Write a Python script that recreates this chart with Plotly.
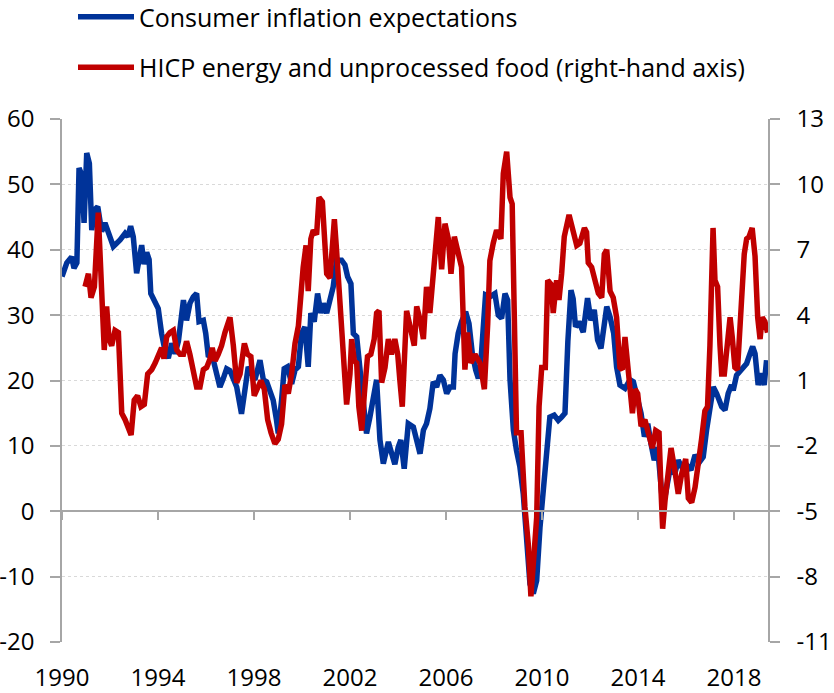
import plotly.graph_objects as go

# consumer inflation expectations (left axis), decimal year / balance
anos_exp = [1990.00, 1990.20, 1990.40, 1990.50, 1990.62, 1990.71, 1990.82, 1990.92, 1991.03, 1991.14,
            1991.24, 1991.35, 1991.49, 1991.65, 1991.79, 1991.93, 1992.14, 1992.42, 1992.63, 1992.75,
            1992.86, 1992.97, 1993.11, 1993.32, 1993.42, 1993.53, 1993.63, 1993.70, 1993.88, 1994.01,
            1994.15, 1994.29, 1994.43, 1994.57, 1994.71, 1994.85, 1995.06, 1995.19, 1995.33, 1995.47,
            1995.61, 1995.71, 1995.89, 1995.99, 1996.10, 1996.24, 1996.44, 1996.58, 1996.72, 1996.86,
            1997.00, 1997.28, 1997.48, 1997.62, 1997.76, 1997.90, 1998.04, 1998.25, 1998.39, 1998.53,
            1998.67, 1998.80, 1998.94, 1999.01, 1999.15, 1999.26, 1999.40, 1999.57, 1999.71, 1999.85,
            1999.98, 2000.12, 2000.26, 2000.37, 2000.51, 2000.65, 2000.79, 2000.89, 2001.03, 2001.17,
            2001.30, 2001.44, 2001.65, 2001.79, 2001.90, 2002.04, 2002.14, 2002.28, 2002.42, 2002.55,
            2002.69, 2002.83, 2002.97, 2003.11, 2003.25, 2003.39, 2003.60, 2003.73, 2003.87, 2004.01,
            2004.12, 2004.26, 2004.43, 2004.64, 2004.78, 2004.92, 2005.06, 2005.19, 2005.33, 2005.47,
            2005.61, 2005.75, 2005.89, 2006.03, 2006.17, 2006.31, 2006.38, 2006.51, 2006.65, 2006.82,
            2006.96, 2007.10, 2007.24, 2007.35, 2007.46, 2007.56, 2007.65, 2007.83, 2008.04, 2008.18,
            2008.32, 2008.46, 2008.57, 2008.67, 2008.81, 2008.94, 2009.08, 2009.22, 2009.36, 2009.50,
            2009.64, 2009.78, 2009.92, 2010.06, 2010.19, 2010.33, 2010.51, 2010.68, 2010.82, 2010.96,
            2011.08, 2011.21, 2011.30, 2011.40, 2011.54, 2011.72, 2011.90, 2012.04, 2012.18, 2012.32,
            2012.46, 2012.56, 2012.70, 2012.84, 2012.99, 2013.11, 2013.25, 2013.46, 2013.67, 2013.81,
            2013.95, 2014.13, 2014.27, 2014.41, 2014.54, 2014.68, 2014.82, 2014.99, 2015.13, 2015.33,
            2015.54, 2015.68, 2015.89, 2015.98, 2016.21, 2016.38, 2016.58, 2016.72, 2016.86, 2017.00,
            2017.14, 2017.28, 2017.49, 2017.63, 2017.76, 2017.90, 2017.97, 2018.11, 2018.32, 2018.53,
            2018.67, 2018.78, 2018.88, 2019.01, 2019.15, 2019.26, 2019.36]
valores_exp = [35.9, 38.0, 38.9, 37.2, 38.0, 52.5, 51.5, 44.1, 54.8, 53.2,
               43.0, 46.1, 46.6, 42.8, 44.1, 42.5, 40.5, 41.5, 42.5, 42.0,
               43.6, 42.0, 36.4, 40.7, 37.8, 39.6, 38.5, 33.3, 31.8, 31.0,
               27.2, 24.6, 23.4, 25.7, 24.1, 26.0, 32.3, 29.2, 31.8, 32.8,
               33.3, 29.0, 29.2, 27.2, 23.6, 24.1, 21.1, 19.0, 20.3, 21.8,
               21.5, 19.0, 14.9, 19.0, 22.1, 21.1, 20.1, 23.1, 20.1, 19.8,
               18.0, 17.0, 13.9, 11.9, 17.0, 21.8, 22.1, 19.5, 21.6, 22.1,
               27.2, 28.2, 22.1, 30.3, 29.0, 33.3, 30.3, 31.8, 30.3, 32.8,
               34.3, 38.4, 38.4, 37.7, 35.9, 34.8, 27.2, 26.7, 21.6, 18.0,
               11.9, 14.4, 17.0, 20.1, 10.9, 7.3, 10.6, 8.8, 7.2, 9.8,
               10.9, 6.5, 13.4, 12.9, 10.6, 8.8, 12.4, 13.4, 15.7, 19.8,
               19.0, 20.8, 20.1, 18.0, 19.0, 19.0, 24.1, 27.2, 29.0, 30.5,
               28.7, 24.1, 21.6, 20.3, 23.1, 29.7, 33.1, 32.8, 33.3, 30.0,
               29.5, 33.3, 32.3, 20.1, 12.4, 9.3, 6.8, 2.7, -4.4, -11.1,
               -12.6, -10.6, -2.4, 2.7, 8.8, 14.4, 14.7, 13.9, 14.4, 15.0,
               26.0, 33.8, 32.5, 28.2, 29.0, 27.4, 32.6, 29.2, 30.8, 26.2,
               24.9, 28.2, 31.3, 29.7, 27.2, 22.1, 19.3, 18.8, 20.1, 19.8,
               17.5, 15.0, 11.4, 13.4, 10.4, 7.8, 9.8, 2.7, 2.2, 6.3,
               5.8, 7.8, 6.3, 7.3, 6.3, 8.6, 7.6, 8.3, 12.4, 16.0,
               19.0, 18.0, 16.0, 15.5, 18.0, 19.3, 18.5, 20.8, 21.6, 22.6,
               24.1, 25.2, 24.1, 19.3, 21.1, 19.3, 23.1]

# HICP energy and unprocessed food (right axis), decimal year / % yoy
anos_hicp = [1990.96, 1991.10, 1991.21, 1991.35, 1991.51, 1991.63, 1991.76, 1991.86, 1991.96, 1992.07,
             1992.21, 1992.35, 1992.49, 1992.63, 1992.76, 1992.88, 1993.01, 1993.15, 1993.29, 1993.43,
             1993.57, 1993.74, 1993.88, 1994.01, 1994.15, 1994.25, 1994.36, 1994.50, 1994.64, 1994.78,
             1994.92, 1995.06, 1995.19, 1995.33, 1995.47, 1995.61, 1995.75, 1995.89, 1996.03, 1996.17,
             1996.26, 1996.38, 1996.51, 1996.65, 1996.79, 1997.00, 1997.14, 1997.28, 1997.42, 1997.60,
             1997.73, 1997.87, 1998.01, 1998.15, 1998.29, 1998.43, 1998.57, 1998.71, 1998.87, 1999.01,
             1999.15, 1999.29, 1999.43, 1999.57, 1999.71, 1999.85, 1999.96, 2000.05, 2000.17, 2000.26,
             2000.37, 2000.47, 2000.61, 2000.71, 2000.85, 2000.96, 2001.03, 2001.17, 2001.26, 2001.35,
             2001.44, 2001.58, 2001.68, 2001.79, 2001.86, 2002.00, 2002.07, 2002.18, 2002.28, 2002.37,
             2002.49, 2002.60, 2002.73, 2002.87, 2003.01, 2003.11, 2003.21, 2003.32, 2003.46, 2003.60,
             2003.73, 2003.87, 2003.99, 2004.08, 2004.18, 2004.36, 2004.50, 2004.68, 2004.78, 2004.92,
             2005.06, 2005.19, 2005.33, 2005.43, 2005.54, 2005.68, 2005.82, 2005.96, 2006.10, 2006.21,
             2006.35, 2006.51, 2006.65, 2006.79, 2006.90, 2007.04, 2007.21, 2007.42, 2007.60, 2007.74,
             2007.83, 2007.97, 2008.11, 2008.29, 2008.39, 2008.53, 2008.67, 2008.76, 2008.85, 2008.94,
             2009.13, 2009.29, 2009.43, 2009.54, 2009.68, 2009.78, 2009.88, 2009.99, 2010.14, 2010.24,
             2010.39, 2010.47, 2010.61, 2010.71, 2010.82, 2010.93, 2011.13, 2011.31, 2011.45, 2011.58,
             2011.77, 2011.86, 2011.93, 2012.07, 2012.21, 2012.35, 2012.49, 2012.60, 2012.70, 2012.84,
             2012.97, 2013.11, 2013.25, 2013.35, 2013.46, 2013.57, 2013.67, 2013.77, 2013.88, 2013.99,
             2014.13, 2014.29, 2014.43, 2014.60, 2014.74, 2014.88, 2014.96, 2015.03, 2015.13, 2015.27,
             2015.38, 2015.52, 2015.68, 2015.82, 2015.99, 2016.10, 2016.24, 2016.38, 2016.51, 2016.65,
             2016.79, 2016.90, 2017.00, 2017.07, 2017.13, 2017.21, 2017.32, 2017.42, 2017.49, 2017.60,
             2017.74, 2017.84, 2017.93, 2018.04, 2018.15, 2018.29, 2018.43, 2018.53, 2018.63, 2018.76,
             2018.88, 2018.99, 2019.09, 2019.18, 2019.29, 2019.40]
valores_hicp = [5.3, 5.9, 4.8, 5.3, 8.7, 5.9, 2.4, 4.4, 2.9, 2.6,
                3.3, 3.2, -0.5, -0.8, -1.1, -1.5, 0.1, 0.3, -0.2, -0.1,
                1.3, 1.5, 1.8, 2.1, 2.5, 2.0, 3.0, 3.2, 3.3, 2.4,
                2.2, 2.2, 2.8, 2.2, 1.5, 0.7, 0.7, 1.5, 1.6, 2.0,
                2.5, 1.9, 2.2, 2.6, 3.2, 3.9, 2.6, 0.9, 1.3, 2.7,
                2.2, 2.1, 0.3, 0.6, 1.0, 0.6, -0.8, -1.4, -1.9, -1.7,
                -1.0, 0.8, 0.4, 1.3, 2.7, 3.5, 5.3, 6.2, 7.2, 5.1,
                7.5, 7.9, 7.7, 9.4, 9.2, 7.5, 5.9, 5.7, 7.5, 8.4,
                7.0, 4.8, 2.9, 1.6, -0.1, 1.3, 2.9, 1.9, 1.8, -0.2,
                -1.3, 0.4, 2.1, 2.2, 2.9, 4.1, 4.2, 0.9, 1.6, 2.9,
                2.2, 2.9, 2.2, 1.0, -0.2, 4.2, 3.5, 2.6, 4.4, 3.8,
                2.9, 5.3, 4.1, 5.6, 6.5, 8.5, 6.1, 8.2, 7.5, 5.9,
                7.6, 6.8, 6.2, 1.5, 3.2, 1.8, 2.2, 1.8, 0.6, 3.6,
                6.5, 7.3, 7.9, 7.5, 10.5, 11.5, 9.4, 9.1, 4.4, -1.4,
                -1.4, -4.8, -6.5, -8.9, -6.8, -5.3, -0.2, 1.6, 1.6, 5.6,
                5.4, 4.1, 5.6, 4.7, 5.9, 7.6, 8.6, 7.9, 7.2, 7.3,
                8.0, 7.8, 6.4, 6.2, 5.6, 5.0, 4.8, 6.8, 7.0, 5.1,
                4.8, 3.9, 1.6, 1.5, 3.0, 1.6, 1.0, -0.5, 0.6, 0.4,
                -1.1, -0.8, -1.4, -2.1, -1.3, -1.4, -4.0, -5.8, -4.5, -3.0,
                -2.1, -3.0, -4.2, -3.3, -2.6, -4.4, -4.6, -3.9, -3.0, -1.7,
                -0.4, -0.2, 2.6, 6.2, 8.0, 5.6, 5.3, 2.6, 1.3, 1.3,
                3.0, 3.9, 3.0, 1.6, 1.5, 4.4, 6.8, 7.5, 7.6, 8.0,
                6.7, 3.9, 2.9, 3.9, 3.7, 3.2]

anos_ticks = [1990, 1994, 1998, 2002, 2006, 2010, 2014, 2018]
ticks_esq = [60, 50, 40, 30, 20, 10, 0, -10, -20]
ticks_dir = [13, 10, 7, 4, 1, -2, -5, -8, -11]

azul = "#003399"
vermelho = "#C00000"
cinza = "#A6A6A6"
fonte_eixos = dict(family="Open Sans, Noto Sans, sans-serif", size=24, color="#000000")
fonte_legenda = dict(family="Open Sans, Noto Sans, sans-serif", size=25, color="#000000")
faixa_x = [1990, 2019.42]

# plot area in pixels, used to place the legend in paper coordinates
esq, topo, larg, alt = 62, 119, 706, 523

fig = go.Figure()

fig.add_trace(go.Scatter(x=anos_exp, y=valores_exp, mode="lines",
                         name="Consumer inflation expectations", legendgroup="a",
                         line=dict(color=azul, width=5.5)))
fig.add_trace(go.Scatter(x=anos_hicp, y=valores_hicp, mode="lines", yaxis="y2",
                         name="HICP energy and unprocessed food (right-hand axis)", legendgroup="b",
                         line=dict(color=vermelho, width=5.5)))
# empty trace so the zero axis (x2) gets drawn
fig.add_trace(go.Scatter(x=[], y=[], xaxis="x2", showlegend=False, hoverinfo="skip"))

fig.update_layout(
    width=834, height=693,
    margin=dict(l=esq, r=834 - esq - larg, t=topo, b=693 - topo - alt, autoexpand=False),
    paper_bgcolor="white", plot_bgcolor="white",
    xaxis=dict(range=faixa_x, tickvals=anos_ticks, ticktext=[str(a) for a in anos_ticks],
               showgrid=False, zeroline=False, showline=False, ticks="",
               tickfont=fonte_eixos, ticklabelstandoff=19),
    xaxis2=dict(range=faixa_x, overlaying="x", anchor="free", position=0.25,
                tickvals=anos_ticks, showticklabels=False, showgrid=False, zeroline=False,
                showline=True, linecolor=cinza, linewidth=1.5,
                ticks="outside", ticklen=8, tickwidth=1.5, tickcolor=cinza),
    yaxis=dict(range=[-20, 60], tickvals=ticks_esq, ticktext=[str(v) for v in ticks_esq],
               showgrid=True, gridcolor="#D9D9D9",
               griddash="dot", gridwidth=1, zeroline=False, showline=True, linecolor=cinza,
               linewidth=1.5, ticks="outside", ticklen=10, tickwidth=1.5, tickcolor=cinza,
               tickfont=fonte_eixos, ticklabelstandoff=11),
    yaxis2=dict(range=[-11, 13], tickvals=ticks_dir, ticktext=[str(v) for v in ticks_dir],
                overlaying="y", side="right",
                showgrid=False, zeroline=False, showline=True, linecolor=cinza, linewidth=1.5,
                ticks="outside", ticklen=10, tickwidth=1.5, tickcolor=cinza,
                tickfont=fonte_eixos, ticklabelstandoff=12),
    legend=dict(x=(73 - esq) / larg, y=1 + (topo + 6) / alt, xanchor="left", yanchor="top",
                traceorder="grouped", tracegroupgap=15, itemwidth=56,
                font=fonte_legenda, bgcolor="rgba(0,0,0,0)"),
)

fig.write_html("out.html", config={"displayModeBar": False},
               post_script="document.body.style.margin='0px';")
